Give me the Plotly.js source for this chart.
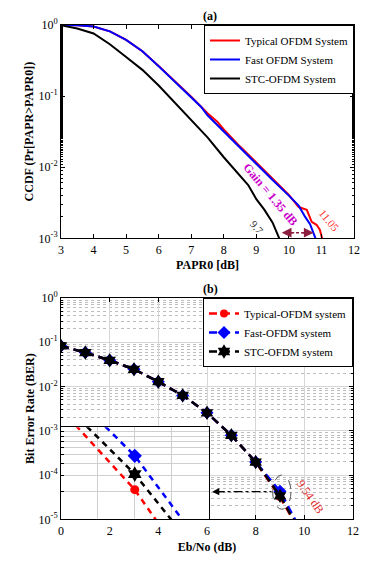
<!DOCTYPE html>
<html>
<head>
<meta charset="utf-8">
<script src="https://cdn.plot.ly/plotly-3.0.1.min.js"></script>
<style>html,body{margin:0;padding:0;background:#fff;}#chart{width:381px;height:563px;}</style>
</head>
<body>
<div id="chart"></div>
<script>
// ---------- (a) CCDF data ----------
const papr_typical_x = [3, 3.5, 4, 4.5, 5, 5.5, 6, 6.5, 7, 7.5, 7.8, 8, 8.5, 9, 9.5, 10, 10.3, 10.55, 10.7, 10.85, 10.95, 11.05];
const papr_typical_y = [1.0, 0.993, 0.955, 0.813, 0.617, 0.427, 0.266, 0.162, 0.0977, 0.0575, 0.0437, 0.0339, 0.0195, 0.0117, 0.00692, 0.00407, 0.00275, 0.00251, 0.0017, 0.00155, 0.00132, 0.00089];
const papr_fast_x = [3, 3.5, 4, 4.5, 5, 5.5, 6, 6.5, 7, 7.3, 7.5, 8, 8.5, 9, 9.5, 10, 10.3, 10.5, 10.65, 10.8, 10.85];
const papr_fast_y = [1.0, 0.993, 0.955, 0.813, 0.617, 0.427, 0.263, 0.158, 0.0955, 0.0708, 0.0537, 0.0316, 0.0186, 0.0112, 0.0066, 0.00398, 0.00288, 0.0020, 0.00158, 0.00105, 0.00089];
const papr_stc_x = [3, 3.5, 4, 4.5, 5, 5.5, 6, 6.5, 7, 7.5, 8, 8.5, 8.75, 9, 9.25, 9.5, 9.7, 9.75];
const papr_stc_y = [0.989, 0.891, 0.759, 0.537, 0.355, 0.234, 0.141, 0.0813, 0.0457, 0.0263, 0.0138, 0.00759, 0.00562, 0.00355, 0.00251, 0.00166, 0.0010, 0.00089];
const seriesNamesA = ['Typical OFDM System', 'Fast OFDM System', 'STC-OFDM System'];

// ---------- (b) BER data ----------
const ebno = [0, 1, 2, 3, 4, 5, 6, 7, 8, 9, 10];
const ber_typical = [0.0826, 0.0585, 0.039, 0.0245, 0.0129, 0.0063, 0.00255, 0.00079, 0.000197, 0.000032, 0.0000035];
const ber_fast    = [0.0826, 0.0585, 0.039, 0.0245, 0.0129, 0.0063, 0.00255, 0.00079, 0.000197, 0.000043, 0.0000040];
const ber_stc     = [0.0826, 0.0585, 0.039, 0.0245, 0.0129, 0.0063, 0.00255, 0.00079, 0.000197, 0.000034, 0.0000036];
const seriesNamesB = ['Typical-OFDM system', 'Fast-OFDM system', 'STC-OFDM system'];

// inset (zoom around 9 dB)
const inset_typical_x = [8.2, 9, 9.3];
const inset_typical_y = [0.000105, 0.000021, 0.0000095];
const inset_stc_x = [8.35, 9, 9.5];
const inset_stc_y = [0.000102, 0.000031, 0.0000098];
const inset_fast_x = [8.6, 9, 9.65];
const inset_fast_y = [0.000102, 0.000049, 0.0000098];
const insetMarkerX = 9;

// tick labels
const tickValsA = [0.001, 0.01, 0.1, 1];
const tickTextA = ['10<sup>-3</sup>', '10<sup>-2</sup>', '10<sup>-1</sup>', '10<sup>0</sup>'];
const tickValsB = [0.00001, 0.0001, 0.001, 0.01, 0.1, 1];
const tickTextB = ['10<sup>-5</sup>', '10<sup>-4</sup>', '10<sup>-3</sup>', '10<sup>-2</sup>', '10<sup>-1</sup>', '10<sup>0</sup>'];

// annotations text
const gainText = 'Gain = 1.35 dB';
const stcLabel = '9.7';
const typLabel = '11.05';
const berLabel = '9.54 dB';

// ---------- drawing ----------
const FONT = 'Liberation Serif, Times New Roman, serif';
const RED = '#ff0000', BLUE = '#0000ff', BLACK = '#000000';

const traces = [
  {x: papr_typical_x, y: papr_typical_y, name: seriesNamesA[0], mode: 'lines', line: {color: RED, width: 2}, xaxis: 'x', yaxis: 'y', legend: 'legend'},
  {x: papr_fast_x, y: papr_fast_y, name: seriesNamesA[1], mode: 'lines', line: {color: BLUE, width: 2}, xaxis: 'x', yaxis: 'y', legend: 'legend'},
  {x: papr_stc_x, y: papr_stc_y, name: seriesNamesA[2], mode: 'lines', line: {color: BLACK, width: 2}, xaxis: 'x', yaxis: 'y', legend: 'legend'},

  {x: ebno, y: ber_typical, name: seriesNamesB[0], mode: 'lines+markers', line: {color: RED, width: 2.5, dash: '8px,5px'}, marker: {symbol: 'circle', size: 8, color: RED}, xaxis: 'x2', yaxis: 'y2', legend: 'legend2'},
  {x: ebno, y: ber_fast, name: seriesNamesB[1], mode: 'lines+markers', line: {color: BLUE, width: 2.5, dash: '8px,5px'}, marker: {symbol: 'diamond', size: 10, color: BLUE}, xaxis: 'x2', yaxis: 'y2', legend: 'legend2'},
  {x: ebno, y: ber_stc, name: seriesNamesB[2], mode: 'lines+markers', line: {color: BLACK, width: 2.5, dash: '8px,5px'}, marker: {symbol: 'hexagram', size: 11, color: BLACK}, xaxis: 'x2', yaxis: 'y2', legend: 'legend2'},

  {x: inset_typical_x, y: inset_typical_y, mode: 'lines', line: {color: RED, width: 2.5, dash: '6px,5px'}, xaxis: 'x3', yaxis: 'y3', showlegend: false, hoverinfo: 'skip'},
  {x: inset_stc_x, y: inset_stc_y, mode: 'lines', line: {color: BLACK, width: 2.5, dash: '6px,5px'}, xaxis: 'x3', yaxis: 'y3', showlegend: false, hoverinfo: 'skip'},
  {x: inset_fast_x, y: inset_fast_y, mode: 'lines', line: {color: BLUE, width: 2.5, dash: '6px,5px'}, xaxis: 'x3', yaxis: 'y3', showlegend: false, hoverinfo: 'skip'},
  {x: [insetMarkerX], y: [inset_typical_y[1]], mode: 'markers', marker: {symbol: 'circle', size: 9, color: RED}, xaxis: 'x3', yaxis: 'y3', showlegend: false},
  {x: [insetMarkerX], y: [inset_stc_y[1]], mode: 'markers', marker: {symbol: 'hexagram', size: 12, color: BLACK}, xaxis: 'x3', yaxis: 'y3', showlegend: false},
  {x: [insetMarkerX], y: [inset_fast_y[1]], mode: 'markers', marker: {symbol: 'diamond', size: 11, color: BLUE}, xaxis: 'x3', yaxis: 'y3', showlegend: false}
];

const W = 381, H = 563;
const dx = (a, b) => [a / W, b / W];
const dy = (top, bottom) => [1 - bottom / H, 1 - top / H];

const axBase = {
  showline: true, linecolor: '#000', linewidth: 1, mirror: 'ticks',
  ticks: 'inside', ticklen: 4, tickcolor: '#000', zeroline: false,
  tickfont: {family: FONT, size: 12, color: '#000'}, automargin: false
};
const titleFont = {family: FONT, size: 12, color: '#000', weight: 'bold'};

const layout = {
  width: W, height: H,
  margin: {l: 0, r: 0, t: 0, b: 0},
  paper_bgcolor: '#fff', plot_bgcolor: '#fff',
  font: {family: FONT, color: '#000'},
  showlegend: true,
  xaxis: Object.assign({}, axBase, {
    domain: dx(61, 354), range: [3, 12], dtick: 1, showgrid: false, anchor: 'y',
    title: {text: '<b>PAPR0 [dB]</b>', font: titleFont, standoff: 4}
  }),
  yaxis: Object.assign({}, axBase, {
    domain: dy(25, 238.3), type: 'log', range: [-3, 0], tickvals: tickValsA, ticktext: tickTextA,
    showgrid: false, anchor: 'x',
    minor: {ticks: 'inside', ticklen: 2, tickcolor: '#000', showgrid: false},
    title: {text: '<b>CCDF (Pr[PAPR>PAPR0])</b>', font: titleFont, standoff: 2}
  }),
  xaxis2: Object.assign({}, axBase, {
    domain: dx(61, 353), range: [0, 12], dtick: 2, anchor: 'y2',
    showgrid: true, gridcolor: '#d6d6d6', gridwidth: 1,
    title: {text: '<b>Eb/No (dB)</b>', font: titleFont, standoff: 5}
  }),
  yaxis2: Object.assign({}, axBase, {
    domain: dy(298, 519.3), type: 'log', range: [-5, 0], tickvals: tickValsB, ticktext: tickTextB, anchor: 'x2',
    showgrid: true, gridcolor: '#d6d6d6', gridwidth: 1,
    minor: {dtick: 'D1', ticks: 'inside', ticklen: 2, tickcolor: '#000', showgrid: true, gridcolor: '#bdbdbd', griddash: 'dot', gridwidth: 1},
    title: {text: '<b>Bit Error Rate (BER)</b>', font: titleFont, standoff: 1}
  }),
  xaxis3: {
    domain: dx(61, 208.5), range: [8, 10], dtick: 0.5, anchor: 'y3',
    showline: true, linecolor: '#000', linewidth: 1, mirror: true,
    showticklabels: false, ticks: '', showgrid: true, gridcolor: '#cfcfcf', zeroline: false
  },
  yaxis3: {
    domain: dy(427.3, 519.3), type: 'log', range: [-5, -4], anchor: 'x3',
    showline: true, linecolor: '#000', linewidth: 1, mirror: true,
    showticklabels: false, ticks: 'inside', ticklen: 3, tickcolor: '#000',
    showgrid: true, gridcolor: '#cfcfcf',
    minor: {dtick: 'D1', ticks: 'inside', ticklen: 2, tickcolor: '#000', showgrid: true, gridcolor: '#bdbdbd', griddash: 'dot'}
  },
  legend: {
    x: 354 / W, xanchor: 'right', y: 1 - 25 / H, yanchor: 'top',
    bgcolor: '#fff', bordercolor: '#000', borderwidth: 1,
    font: {family: FONT, size: 11, color: '#000'}, tracegroupgap: 0, itemwidth: 30
  },
  legend2: {
    x: 353 / W, xanchor: 'right', y: 1 - 298 / H, yanchor: 'top',
    bgcolor: '#fff', bordercolor: '#000', borderwidth: 1,
    font: {family: FONT, size: 11, color: '#000'}, tracegroupgap: 0, itemwidth: 30
  },
  shapes: [
    {type: 'rect', xref: 'x3 domain', yref: 'y3 domain', x0: 0, x1: 1, y0: 0, y1: 1,
     fillcolor: '#fff', line: {width: 0}, layer: 'below'},
    {type: 'line', xref: 'x', yref: 'y', x0: 9.85, x1: 10.7, y0: 0.0012, y1: 0.0012,
     line: {color: '#8b1e3f', width: 1.5, dash: 'dashdot'}},
    {type: 'circle', xref: 'x2', yref: 'y2', x0: 8.7, x1: 9.45, y0: 0.0000169, y1: 0.000101,
     line: {color: '#555', width: 1, dash: 'dash'}},
    {type: 'line', xref: 'x2', yref: 'y2', x0: 6.35, x1: 8.65, y0: 0.000042, y1: 0.000042,
     line: {color: '#000', width: 1.2, dash: 'dashdot'}}
  ],
  annotations: [
    {text: '<b>(a)</b>', xref: 'paper', yref: 'paper', x: 210 / W, y: 1 - 15.7 / H, xanchor: 'center', yanchor: 'middle', showarrow: false, font: {family: FONT, size: 12, color: '#000'}},
    {text: '<b>(b)</b>', xref: 'paper', yref: 'paper', x: 210 / W, y: 1 - 289 / H, xanchor: 'center', yanchor: 'middle', showarrow: false, font: {family: FONT, size: 12, color: '#000'}},
    {text: '<b>' + gainText + '</b>', xref: 'x', yref: 'y', x: 9.42, y: -2.38, showarrow: false, textangle: 50, font: {family: FONT, size: 12, color: '#cc00cc'}},
    {text: stcLabel, xref: 'x', yref: 'y', x: 9.01, y: -2.84, showarrow: false, textangle: 50, font: {family: FONT, size: 11, color: '#333'}},
    {text: typLabel, xref: 'x', yref: 'y', x: 11.26, y: -2.75, showarrow: false, textangle: 50, font: {family: FONT, size: 11, color: '#ff3333'}},
    {text: '', xref: 'x', yref: 'y', x: 9.78, y: Math.log10(0.0012), showarrow: true, ax: 14, ay: 0, arrowhead: 2, arrowsize: 1.3, arrowwidth: 1.5, arrowcolor: '#8b1e3f'},
    {text: '', xref: 'x', yref: 'y', x: 10.76, y: Math.log10(0.0012), showarrow: true, ax: -14, ay: 0, arrowhead: 2, arrowsize: 1.3, arrowwidth: 1.5, arrowcolor: '#8b1e3f'},
    {text: berLabel, xref: 'x2', yref: 'y2', x: 10.25, y: -4.5, showarrow: false, textangle: 55, font: {family: FONT, size: 12, color: '#e03030'}},
    {text: '', xref: 'x2', yref: 'y2', x: 6.21, y: Math.log10(0.000042), showarrow: true, ax: 14, ay: 0, arrowhead: 2, arrowsize: 1.2, arrowwidth: 1.2, arrowcolor: '#000'}
  ]
};

Plotly.newPlot('chart', traces, layout, {displayModeBar: false, staticPlot: true});
</script>
</body>
</html>
